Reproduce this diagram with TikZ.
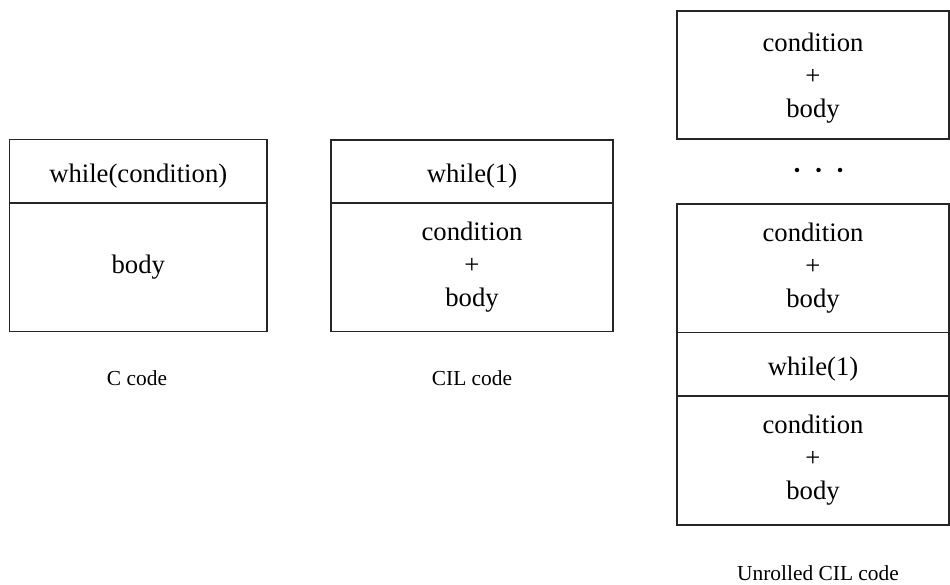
\documentclass[tikz,border=0pt]{standalone}
\usepackage{fontspec}
\setmainfont{Liberation Serif}
\begin{document}
\begin{tikzpicture}[x=1pt,y=-1pt,
  cell/.style={draw=black!85, line width=1.6pt, rectangle, inner sep=0pt},
  celltext/.style={inner sep=0pt, align=center, font=\fontsize{26.7}{33}\selectfont},
  caption/.style={font=\fontsize{21.4}{26}\selectfont, inner sep=0pt},
  dotmark/.style={circle, fill=black, inner sep=0pt, minimum size=4.5pt}]
\useasboundingbox (0,0) rectangle (950,585);

% C code: loop header and body
\node[cell, minimum width=257.5pt, minimum height=63.5pt] (chead) at (138.25,171.25) {};
\node[celltext] (cheadt) at ([yshift=-5pt]chead.center) {while(condition)};
\node[cell, minimum width=257.5pt, minimum height=128.5pt] (cbody) at (138.25,267.25) {};
\node[celltext] (cbodyt) at (cbody.center) {body};
\node[caption] (clabel) at (137,378) {C code};

% CIL code: infinite loop with condition folded into the body
\node[cell, minimum width=282pt, minimum height=63pt] (ilhead) at (472,171.5) {};
\node[celltext] (ilheadt) at ([yshift=-5pt]ilhead.center) {while(1)};
\node[cell, minimum width=282pt, minimum height=128.5pt] (ilbody) at (472,267.25) {};
\node[celltext] (ilbodyt) at (ilbody.center) {condition\\+\\body};
\node[caption] (illabel) at (472,378) {CIL code};

% Unrolled CIL code
\node[cell, minimum width=272pt, minimum height=128pt] (u1) at (813,75) {};
\node[celltext] (u1t) at ([yshift=-3pt]u1.center) {condition\\+\\body};
\node[dotmark] (d1) at (797,170) {};
\node[dotmark] (d2) at (818.5,170) {};
\node[dotmark] (d3) at (840,170) {};
\node[cell, minimum width=272pt, minimum height=128.5pt] (u2) at (813,268.25) {};
\node[celltext] (u2t) at (u2.center) {condition\\+\\body};
\node[cell, minimum width=272pt, minimum height=63.5pt] (u3) at (813,364.25) {};
\node[celltext] (u3t) at ([yshift=-5pt]u3.center) {while(1)};
\node[cell, minimum width=272pt, minimum height=129pt] (u4) at (813,460.5) {};
\node[celltext] (u4t) at (u4.center) {condition\\+\\body};
\node[caption] (ulabel) at (818,573) {Unrolled CIL code};
\end{tikzpicture}
\end{document}
